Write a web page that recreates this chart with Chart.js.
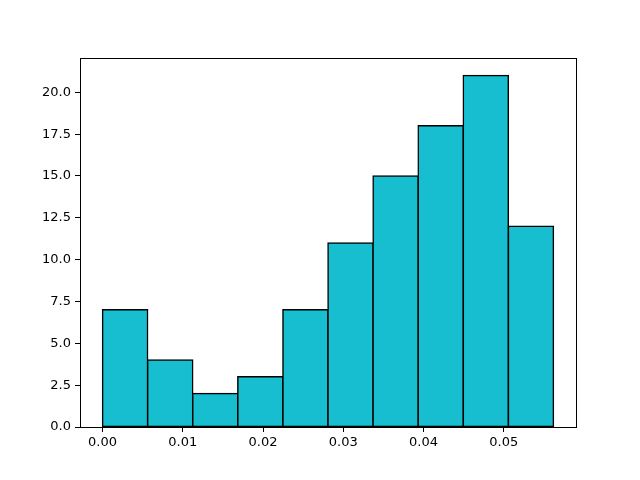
<!DOCTYPE html>
<html>
<head>
<meta charset="utf-8">
<script src="https://cdn.jsdelivr.net/npm/chart.js@4"></script>
<style>
  html, body { margin: 0; padding: 0; background: #ffffff; }
  #wrap { width: 640px; height: 480px; }
</style>
</head>
<body>
<div id="wrap"><canvas id="hist_Chart"></canvas></div>
<script>
// histogram bin edges and counts
var binEdges = [0.0, 0.00562, 0.01124, 0.01686, 0.02248, 0.0281,
    0.03372, 0.03934, 0.04496, 0.05058, 0.0562];
var binCounts = [7, 4, 2, 3, 7, 11, 15, 18, 21, 12];
var xTicks = [0.00, 0.01, 0.02, 0.03, 0.04, 0.05];
var yTicks = [0.0, 2.5, 5.0, 7.5, 10.0, 12.5, 15.0, 17.5, 20.0];

var barColor = "#17becf";

var hist_Data = [];
for (var i = 0; i < binCounts.length; i++) {
    hist_Data.push({ x: (binEdges[i] + binEdges[i + 1]) / 2, y: binCounts[i] });
}

// box round the plot area, like matplotlib spines
var frame_Plugin = {
    id: "frame",
    afterDraw: function (chart) {
        var a = chart.chartArea;
        var ctx = chart.ctx;
        ctx.save();
        ctx.strokeStyle = "#000000";
        ctx.lineWidth = 1;
        ctx.strokeRect(a.left + 0.5, a.top + 0.5, a.right - a.left, a.bottom - a.top);
        ctx.restore();
    }
};

var tickFont = { family: "DejaVu Sans", size: 13 };

var ctxH = document.getElementById("hist_Chart").getContext("2d");
var hist_Chart = new Chart(ctxH, {
    type: "bar",
    data: {
        datasets: [{
            data: hist_Data,
            backgroundColor: barColor,
            borderColor: "#000000",
            borderWidth: 1.5,
            borderSkipped: false,
            inflateAmount: 0.75,
            barPercentage: 1.0,
            categoryPercentage: 1.0,
            grouped: false
        }]
    },
    options: {
        responsive: true,
        maintainAspectRatio: false,
        animation: false,
        layout: { padding: { left: 0, top: 58, right: 64, bottom: 0 } },
        plugins: {
            legend: { display: false },
            tooltip: { enabled: false }
        },
        scales: {
            x: {
                type: "linear",
                min: -0.00281,
                max: 0.05901,
                offset: false,
                border: { display: false },
                grid: { offset: false, drawOnChartArea: false, drawTicks: true, tickLength: 5, color: "#000000" },
                afterFit: function (scale) { scale.height = 53; },
                afterBuildTicks: function (scale) {
                    scale.ticks = xTicks.map(function (v) { return { value: v }; });
                },
                ticks: {
                    color: "#000000",
                    font: tickFont,
                    padding: 3,
                    maxRotation: 0,
                    autoSkip: false,
                    callback: function (v) { return v.toFixed(2); }
                }
            },
            y: {
                min: 0,
                max: 22.05,
                border: { display: false },
                grid: { drawOnChartArea: false, drawTicks: true, tickLength: 5, color: "#000000" },
                afterFit: function (scale) { scale.width = 80; },
                afterBuildTicks: function (scale) {
                    scale.ticks = yTicks.map(function (v) { return { value: v }; });
                },
                ticks: {
                    color: "#000000",
                    font: tickFont,
                    padding: 4,
                    autoSkip: false,
                    callback: function (v) { return v.toFixed(1); }
                }
            }
        }
    },
    plugins: [frame_Plugin]
});
</script>
</body>
</html>
